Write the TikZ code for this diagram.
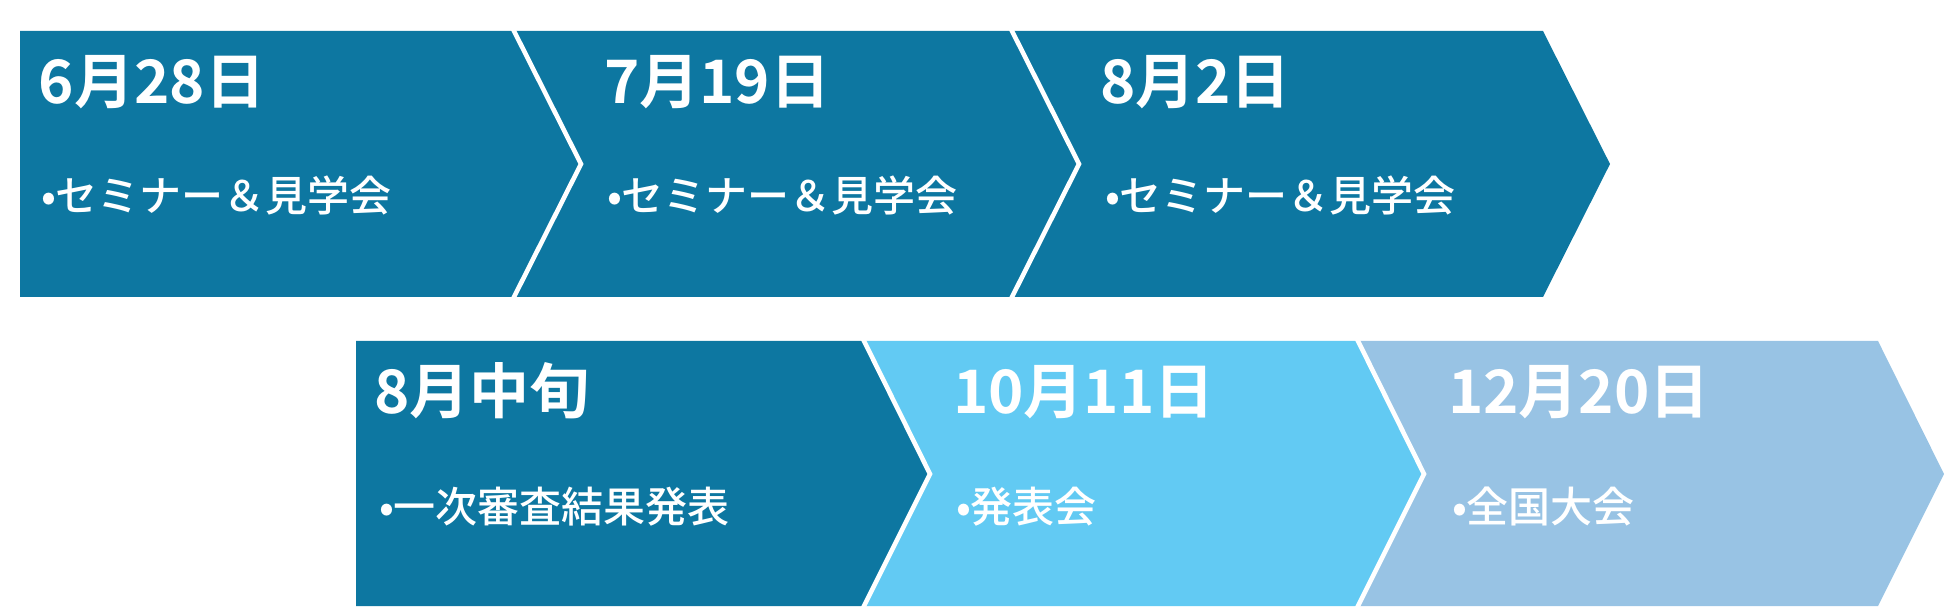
\documentclass[tikz,border=0pt]{standalone}
\usepackage{fontspec}
\setmainfont{Noto Sans CJK JP}[BoldFont={Noto Sans CJK JP Bold}]
\newfontfamily\itemfont{Noto Sans CJK JP Medium}
\usepackage{xcolor}
\definecolor{stepdark}{HTML}{0D77A1}
\definecolor{stepcyan}{HTML}{62CAF3}
\definecolor{steppale}{HTML}{98C3E4}
\tikzset{
    divider/.style={draw=white, line width=2.3pt, line cap=rect},
    datetext/.style={anchor=base west, inner sep=0pt, outer sep=0pt, text=white,
        font=\bfseries\fontsize{30pt}{30pt}\selectfont},
    itemtext/.style={anchor=base west, inner sep=0pt, outer sep=0pt, text=white,
        font=\itemfont\fontsize{21pt}{21pt}\selectfont},
}
\begin{document}
\begin{tikzpicture}[x=.5pt, y=-.5pt]
    \useasboundingbox (0,0) rectangle (1953,614);

    % Upper row
    \fill[stepdark] (20,31) -- (514,31) -- (581,164) -- (514,297) -- (20,297) -- cycle;
    \fill[stepdark] (514,31) -- (1012,31) -- (1079,164) -- (1012,297) -- (514,297) -- (581,164) -- cycle;
    \fill[stepdark] (1012,31) -- (1543,31) -- (1610,164) -- (1543,297) -- (1012,297) -- (1079,164) -- cycle;

    % Lower row
    \fill[stepdark] (356,341) -- (864,341) -- (930,474) -- (864,606) -- (356,606) -- cycle;
    \fill[stepcyan] (864,341) -- (1358,341) -- (1424,474) -- (1358,606) -- (864,606) -- (930,474) -- cycle;
    \fill[steppale] (1358,341) -- (1878,341) -- (1944,474) -- (1878,606) -- (1358,606) -- (1424,474) -- cycle;

    % White separators
    \draw[divider] (514,31) -- (581,164) -- (514,297);
    \draw[divider] (1012,31) -- (1079,164) -- (1012,297);
    \draw[divider] (864,341) -- (930,474) -- (864,606);
    \draw[divider] (1358,341) -- (1424,474) -- (1358,606);

    % Dates
    \node[datetext] (d1) at (39,104) {6月28日};
    \node[datetext] (d2) at (604,104) {7月19日};
    \node[datetext] (d3) at (1100,104) {8月2日};
    \node[datetext] (d4) at (374,414) {8月中旬};
    \node[datetext] (d5) at (953,414) {10月11日};
    \node[datetext] (d6) at (1448,414) {12月20日};

    % Items
    \node[itemtext] (b1) at (41,212) {•セミナー＆見学会};
    \node[itemtext] (b2) at (607,212) {•セミナー＆見学会};
    \node[itemtext] (b3) at (1105,212) {•セミナー＆見学会};
    \node[itemtext] (b4) at (379,522) {•一次審査結果発表};
    \node[itemtext] (b5) at (956,522) {•発表会};
    \node[itemtext] (b6) at (1452,522) {•全国大会};
\end{tikzpicture}
\end{document}
